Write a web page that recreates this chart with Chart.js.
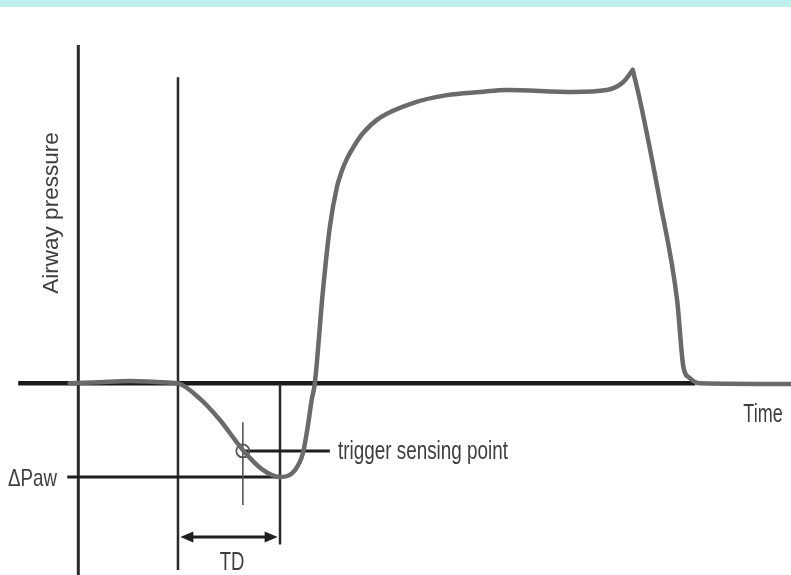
<!DOCTYPE html>
<html>
<head>
<meta charset="utf-8">
<title>Airway pressure trigger</title>
<script src="https://cdn.jsdelivr.net/npm/chart.js@4.4.0/dist/chart.umd.min.js"></script>
<style>
  body { margin: 0; background: #fff; }
  #wrap { position: relative; width: 791px; height: 575px; }
  #band { position: absolute; left: 0; top: 0; width: 791px; height: 7px; background: #bdf0ef; }
</style>
</head>
<body>
<div id="wrap">
  <canvas id="chart" width="791" height="575"></canvas>
  <div id="band"></div>
</div>
<script>
// pressure trace, inspiration up to the end-inspiratory peak
const riseTime = [-0.12, 0.26, 0.64, 1.02, 1.25, 1.53, 1.78, 2.07, 2.31, 2.54, 2.73, 2.83, 2.89, 2.94, 2.98,
  3.08, 3.17, 3.26, 3.32, 3.39, 3.49, 3.59, 3.80, 4.22, 4.65, 5.07, 5.41, 6.24, 6.67, 6.88, 7.00];
const risePressure = [0, 0.05, 0.1, 0.05, 0, -0.65, -1.53, -2.78, -3.58, -3.91, -3.62, -2.91, -1.82, -0.7, 0,
  3.77, 6.53, 8.2, 8.85, 9.4, 9.98, 10.45, 11.08, 11.7, 12.03, 12.16, 12.24, 12.16, 12.24, 12.58, 13.08];
// release back to baseline
const fallTime = [7.00, 7.09, 7.34, 7.56, 7.64, 7.72, 7.85, 9.0];
const fallPressure = [13.08, 11.82, 7.65, 3.48, 0.68, 0.22, 0, -0.03];

// reference lines
const baselineTime = [-0.77, 7.79];
const axisTime = -0.01;
const axisPressure = [14.12, -8];
const triggerTime = 1.25;
const triggerPressure = [12.78, -7.79];
const tdEndTime = 2.54;
const tdEndPressure = [0, -6.73];
const deltaPaw = -3.91;
const deltaPawTime = [-0.15, 2.54];
const sensingTime = 2.07;
const sensingPressure = -2.82;
const sensingTick = [-1.62, -5.08];
const sensingLeaderEnd = 3.17;
const tdArrowPressure = -6.41;
const tdArrowTime = [1.28, 2.51];

const pts = (xs, ys) => xs.map((x, i) => ({ x, y: ys[i] }));
const seg = (x0, y0, x1, y1) => [{ x: x0, y: y0 }, { x: x1, y: y1 }];

const lineStyle = (color, width) => ({
  type: 'line', borderColor: color, borderWidth: width, pointRadius: 0, tension: 0, fill: false, clip: false
});

const curve = {
  ...lineStyle('#6a6a6a', 4.5), cubicInterpolationMode: 'monotone', borderCapStyle: 'round', borderJoinStyle: 'round'
};

// labels + arrowheads, positioned through the scales
const annotations = {
  id: 'annotations',
  afterDatasetsDraw(chart) {
    const { ctx, scales: { x, y } } = chart;
    ctx.save();

    // TD double arrow heads
    ctx.fillStyle = '#1e1e1e';
    const ay = y.getPixelForValue(tdArrowPressure);
    const ax0 = x.getPixelForValue(tdArrowTime[0]);
    const ax1 = x.getPixelForValue(tdArrowTime[1]);
    ctx.beginPath();
    ctx.moveTo(ax0, ay); ctx.lineTo(ax0 + 13, ay - 5.5); ctx.lineTo(ax0 + 13, ay + 5.5); ctx.closePath();
    ctx.moveTo(ax1, ay); ctx.lineTo(ax1 - 13, ay - 5.5); ctx.lineTo(ax1 - 13, ay + 5.5); ctx.closePath();
    ctx.fill();

    // condensed labels
    ctx.fillStyle = '#3e3e3e';
    ctx.textBaseline = 'alphabetic';
    const narrow = (text, t, p, align, size, stretch) => {
      ctx.save();
      ctx.translate(x.getPixelForValue(t), y.getPixelForValue(p));
      ctx.scale(stretch, 1);
      ctx.font = size + 'px "Liberation Sans", Arial, sans-serif';
      ctx.textAlign = align;
      ctx.fillText(text, 0, 0);
      ctx.restore();
    };
    narrow('trigger sensing point', 3.273, -3.16, 'left', 25, 0.755);
    narrow('\u0394Paw', -0.279, -4.29, 'right', 24, 0.78);
    narrow('TD', 1.933, -7.79, 'center', 25, 0.74);
    narrow('Time', 8.646, -1.62, 'center', 25, 0.72);

    // axis title
    ctx.save();
    ctx.translate(x.getPixelForValue(-0.267), y.getPixelForValue(7.11));
    ctx.rotate(-Math.PI / 2);
    ctx.font = '22.5px "Liberation Sans", Arial, sans-serif';
    ctx.textAlign = 'center';
    ctx.fillText('Airway pressure', 0, 0);
    ctx.restore();

    ctx.restore();
  }
};

new Chart(document.getElementById('chart'), {
  data: {
    datasets: [
      { ...curve, data: pts(riseTime, risePressure) },
      { ...curve, data: pts(fallTime, fallPressure) },
      {
        type: 'scatter', data: [{ x: sensingTime, y: sensingPressure }], pointRadius: 6.5,
        pointBorderWidth: 1.8, pointBorderColor: '#555', pointBackgroundColor: 'rgba(0,0,0,0)', clip: false
      },
      { ...lineStyle('#1e1e1e', 3), data: seg(sensingTime, sensingPressure, sensingLeaderEnd, sensingPressure) },
      { ...lineStyle('#555', 1.6), data: seg(sensingTime, sensingTick[0], sensingTime, sensingTick[1]) },
      { ...lineStyle('#1e1e1e', 3), data: seg(tdArrowTime[0] + 0.1, tdArrowPressure, tdArrowTime[1] - 0.1, tdArrowPressure) },
      { ...lineStyle('#1e1e1e', 3), data: seg(deltaPawTime[0], deltaPaw, deltaPawTime[1], deltaPaw) },
      { ...lineStyle('#2a2a2a', 2.5), data: seg(tdEndTime, tdEndPressure[0], tdEndTime, tdEndPressure[1]) },
      { ...lineStyle('#2a2a2a', 2.5), data: seg(triggerTime, triggerPressure[0], triggerTime, triggerPressure[1]) },
      { ...lineStyle('#2a2a2a', 3), data: seg(axisTime, axisPressure[0], axisTime, axisPressure[1]) },
      { ...lineStyle('#1a1a1a', 4.5), data: seg(baselineTime[0], 0, baselineTime[1], 0) }
    ]
  },
  options: {
    responsive: false,
    devicePixelRatio: 1,
    animation: false,
    layout: { padding: 0, autoPadding: false },
    scales: {
      x: { type: 'linear', min: -1, max: 9, display: false },
      y: { type: 'linear', min: -8, max: 16, display: false }
    },
    plugins: { legend: { display: false }, tooltip: { enabled: false } }
  },
  plugins: [annotations]
});
</script>
</body>
</html>
